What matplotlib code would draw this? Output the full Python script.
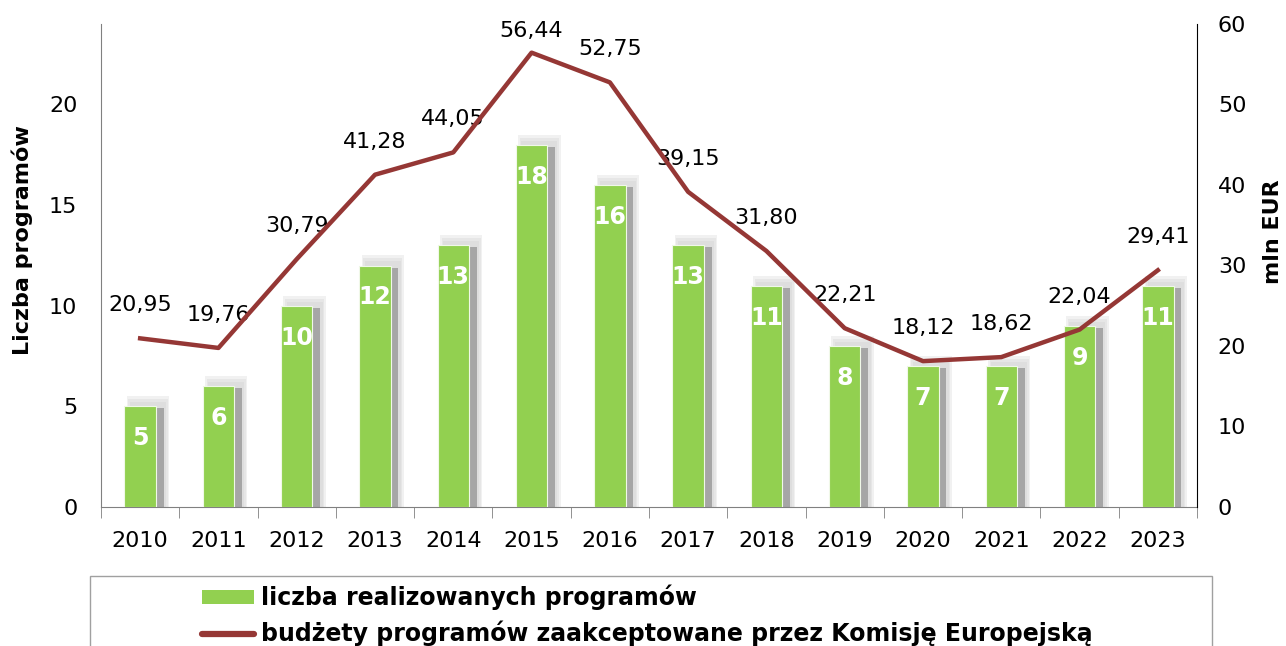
import numpy as np
import matplotlib
matplotlib.use('Agg')
import matplotlib.pyplot as plt
from matplotlib.patches import Rectangle, Patch
from matplotlib.lines import Line2D

years = ['2010', '2011', '2012', '2013', '2014', '2015', '2016',
         '2017', '2018', '2019', '2020', '2021', '2022', '2023']
programs = [5, 6, 10, 12, 13, 18, 16, 13, 11, 8, 7, 7, 9, 11]
budgets = [20.95, 19.76, 30.79, 41.28, 44.05, 56.44, 52.75,
           39.15, 31.80, 22.21, 18.12, 18.62, 22.04, 29.41]

bar_label = 'liczba realizowanych programów'
line_label = 'budżety programów zaakceptowane przez Komisję Europejską'

green = '#92D050'
red = '#953735'

plt.rcParams['font.family'] = ['DejaVu Sans']

fig = plt.figure(figsize=(12.86, 6.46), dpi=100)
ax = fig.add_axes([101 / 1286, 1 - 507 / 646, 1096 / 1286, 483 / 646])

x = np.arange(len(years))
heights = np.array(programs, dtype=float)

# soft shadow behind the bars: a few faint layers, then the darker strip
for extra_w, extra_h in [(0.14, 0.5), (0.1, 0.35), (0.06, 0.2)]:
    ax.bar(x + 0.1, heights + extra_h, width=0.4 + extra_w, color='#c8c8c8',
           alpha=0.25, linewidth=0, zorder=1)
ax.bar(x + 0.09, heights - 0.1, width=0.42, color='#a6a6a6', linewidth=0, zorder=2)
ax.bar(x, programs, width=0.4, color=green, edgecolor='#f0f8e8', linewidth=0.8, zorder=3)

for xi, v in zip(x, programs):
    ax.annotate(str(v), (xi, v), xytext=(0, -23), textcoords='offset points',
                ha='center', va='center', color='white', fontsize=17, fontweight='bold',
                zorder=4)

ax.set_xlim(-0.5, len(years) - 0.5)
ax.set_ylim(0, 24)
ax.set_yticks([0, 5, 10, 15, 20])
ax.set_xticks(x)
ax.set_xticklabels(years)
ax.set_xticks(np.arange(-0.5, len(years)), minor=True)
ax.tick_params(axis='x', which='major', length=0, pad=17, labelsize=16)
ax.tick_params(axis='x', which='minor', length=8, color='#808080')
ax.tick_params(axis='y', length=0, pad=17, labelsize=16)
ax.spines['top'].set_visible(False)
ax.spines['right'].set_visible(False)
ax.spines['left'].set_color('#808080')
ax.spines['bottom'].set_color('#808080')
ax.set_ylabel('Liczba programów', fontsize=16, fontweight='bold')
ax.yaxis.set_label_coords(-0.062, 0.553)

ax2 = ax.twinx()
ax2.plot(x, budgets, color=red, linewidth=3.2, zorder=5)
for xi, v in zip(x, budgets):
    ax2.text(xi, min(v + 4.1, 59.1), f'{v:.2f}'.replace('.', ','),
             ha='center', va='center', fontsize=16)
ax2.set_ylim(0, 60)
ax2.set_yticks([0, 10, 20, 30, 40, 50, 60])
ax2.tick_params(axis='y', length=0, pad=15, labelsize=16)
ax2.spines['top'].set_visible(False)
ax2.spines['left'].set_visible(False)
ax2.spines['bottom'].set_visible(False)
ax2.set_ylabel('mln EUR', fontsize=16, fontweight='bold')
ax2.yaxis.set_label_coords(1.060, 0.569)

# legend box, cut by the bottom edge as in the source
fig.patches.append(Rectangle((90 / 1286, -0.1), 1122 / 1286, 0.1 + (646 - 576) / 646,
                             transform=fig.transFigure, facecolor='white',
                             edgecolor='#a0a0a0', linewidth=1))
handles = [Patch(facecolor=green, edgecolor='none'),
           Line2D([0], [0], color=red, linewidth=4.5, solid_capstyle='round')]
fig.legend(handles, [bar_label, line_label], loc='upper left',
           bbox_to_anchor=(190 / 1286, 1 - 573 / 646), frameon=False,
           prop={'size': 17, 'weight': 'bold'}, handlelength=2.2, handleheight=0.55,
           handletextpad=0.3, labelspacing=0.45, borderpad=0)

fig.savefig('out.png', dpi=100)
